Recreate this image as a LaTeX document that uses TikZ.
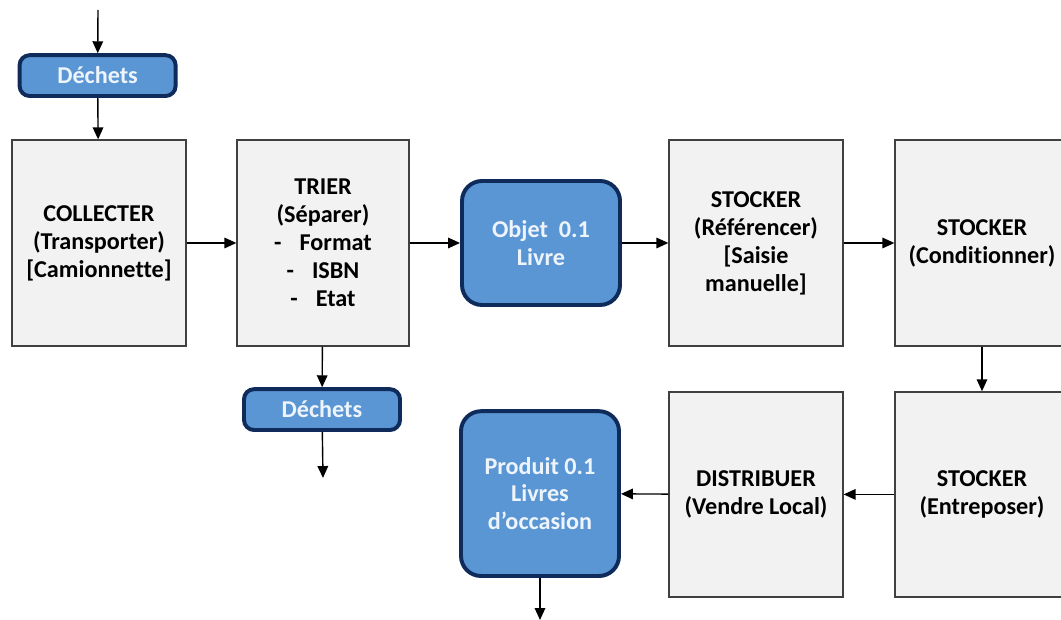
\documentclass[tikz,border=0pt]{standalone}
\usepackage{fontspec}
\setmainfont{Carlito}[Ligatures=NoCommon]
\usepackage{tikz}
\usetikzlibrary{shapes}
\usetikzlibrary{positioning}
\usetikzlibrary{arrows.meta}
\usepackage{xcolor}
\definecolor{boxgrey}{HTML}{F2F2F2}
\definecolor{edgegrey}{HTML}{404040}
\definecolor{flowblue}{HTML}{5B96D4}
\definecolor{navy}{HTML}{0F2B5C}
\definecolor{paleblue}{HTML}{EEF4FB}

\begin{document}
\begin{tikzpicture}[
  font=\fontsize{17.2}{19.9}\selectfont\bfseries,
  stepbox/.style={draw=edgegrey,fill=boxgrey,line width=.9pt,align=center,
    minimum width=4.35cm,minimum height=5.15cm,inner sep=0pt},
  wastebox/.style={draw=navy,fill=flowblue,line width=2.8pt,rounded corners=.25cm,
    text=paleblue,minimum width=3.9cm,minimum height=1.02cm,inner sep=0pt},
  itembox/.style={draw=navy,fill=flowblue,line width=2.8pt,rounded corners=.5cm,
    text=paleblue,align=center,minimum width=3.95cm,inner sep=0pt},
  flow/.style={-{Triangle[length=8.5pt,width=7.5pt]},line width=1pt,black}]
\useasboundingbox (0,0) rectangle (26.525,15.5);
\coordinate (inflow) at (2.45,15.25);
\node[wastebox] (dechA) at (2.44,13.61) {Déchets};
\node[stepbox] (collecter) at (2.475,9.425) {COLLECTER\\(Transporter)\\{}[Camionnette]};
\node[stepbox,minimum width=4.3cm] (trier) at (8.075,9.425)
  {TRIER\\(Séparer)\\-\hspace{.45cm}Format\\-\hspace{.45cm}ISBN\\-\hspace{.45cm}Etat};
\node[itembox,minimum height=3.1cm] (objet) at (13.525,9.425) {Objet\ \ 0.1\\Livre};
\node[stepbox] (ref) at (18.9,9.425) {STOCKER\\(Référencer)\\{}[Saisie\\manuelle]};
\node[stepbox] (cond) at (24.55,9.425) {STOCKER\\(Conditionner)};
\node[wastebox] (dechB) at (8.05,5.26) {Déchets};
\coordinate (wasteout) at (8.075,3.55);
\node[stepbox,minimum height=5.125cm] (entre) at (24.55,3.14) {STOCKER\\(Entreposer)};
\node[stepbox,minimum height=5.125cm] (distrib) at (18.9,3.14) {DISTRIBUER\\(Vendre Local)};
\node[itembox,minimum height=4.12cm] (produit) at (13.5,3.16) {Produit 0.1\\Livres\\d’occasion};
\coordinate (prodout) at (13.5,0);
% haut
\draw[flow] (inflow)--(dechA);
\draw[flow] (dechA)--(collecter);
\draw[flow] (collecter)--(trier);
\draw[flow] (trier)--(objet);
\draw[flow] (objet)--(ref);
\draw[flow] (ref)--(cond);
% bas
\draw[flow] (trier)--(dechB);
\draw[flow] (dechB)--(wasteout);
\draw[flow] (cond)--(entre);
\draw[flow] (entre)--(distrib);
\draw[flow] (distrib)--(produit);
\draw[flow] (produit)--(prodout);
\end{tikzpicture}
\end{document}
